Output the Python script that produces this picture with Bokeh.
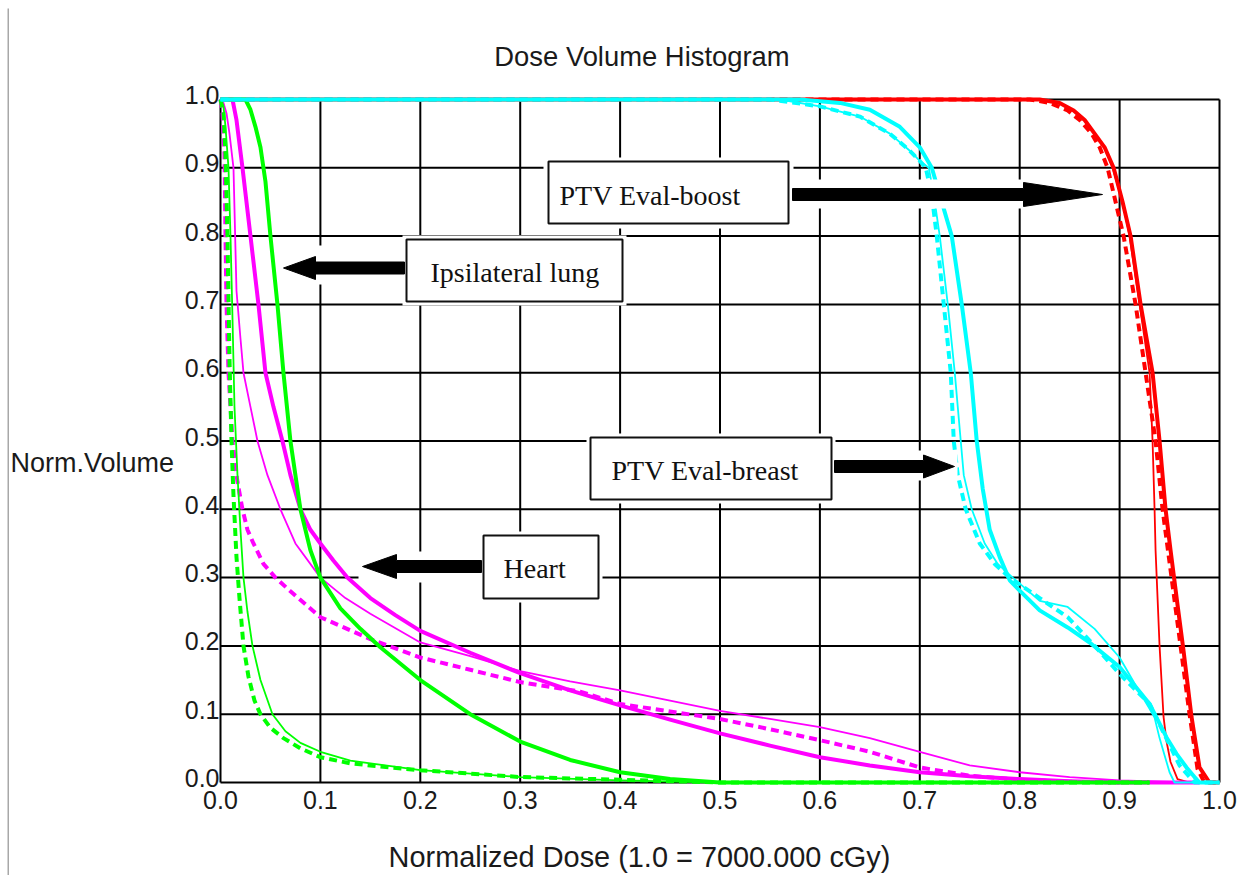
from bokeh.plotting import figure
from bokeh.models import (Range1d, ColumnDataSource, LabelSet,
                          BoxAnnotation, PolyAnnotation)
from bokeh.core.properties import value
from bokeh.embed import file_html
from bokeh.resources import INLINE

# ---------------- data ----------------
tick_values = [0.0, 0.1, 0.2, 0.3, 0.4, 0.5, 0.6, 0.7, 0.8, 0.9, 1.0]
tick_labels = ["0.0", "0.1", "0.2", "0.3", "0.4", "0.5", "0.6", "0.7", "0.8", "0.9", "1.0"]

# Heart (green)
heart1_x = [0, 0.025, 0.03, 0.035, 0.04, 0.045, 0.05, 0.057, 0.063, 0.07, 0.08, 0.09, 0.1, 0.12, 0.14, 0.16, 0.2, 0.25, 0.3, 0.35, 0.4, 0.45, 0.5, 0.93]
heart1_y = [1.0, 1.0, 0.985, 0.96, 0.93, 0.88, 0.8, 0.7, 0.6, 0.5, 0.4, 0.34, 0.3, 0.255, 0.225, 0.198, 0.15, 0.1, 0.06, 0.033, 0.015, 0.005, 0.0, 0.0]
heart2_x = [0, 0.003, 0.005, 0.008, 0.010, 0.012, 0.014, 0.017, 0.020, 0.023, 0.027, 0.032, 0.04, 0.052, 0.065, 0.08, 0.1, 0.13, 0.2, 0.3, 0.4, 0.5, 0.93]
heart2_y = [1.0, 0.99, 0.96, 0.9, 0.8, 0.68, 0.55, 0.45, 0.37, 0.3, 0.25, 0.2, 0.15, 0.1, 0.075, 0.058, 0.045, 0.032, 0.018, 0.008, 0.003, 0.0, 0.0]
heart3_x = [0, 0.003, 0.005, 0.007, 0.009, 0.011, 0.013, 0.016, 0.019, 0.023, 0.028, 0.034, 0.04, 0.05, 0.063, 0.08, 0.1, 0.13, 0.17, 0.2, 0.25, 0.3, 0.35, 0.4, 0.45, 0.5, 0.93]
heart3_y = [1.0, 0.98, 0.92, 0.8, 0.62, 0.5, 0.42, 0.33, 0.27, 0.2, 0.155, 0.12, 0.1, 0.08, 0.065, 0.05, 0.037, 0.028, 0.022, 0.018, 0.013, 0.008, 0.006, 0.004, 0.002, 0.0, 0.0]

# Ipsilateral lung (magenta)
lung1_x = [0, 0.012, 0.016, 0.022, 0.03, 0.038, 0.045, 0.053, 0.062, 0.07, 0.08, 0.09, 0.1, 0.113, 0.127, 0.15, 0.175, 0.2, 0.25, 0.3, 0.35, 0.4, 0.45, 0.5, 0.55, 0.6, 0.65, 0.7, 0.75, 0.8, 0.85, 0.9, 0.98]
lung1_y = [1.0, 1.0, 0.97, 0.9, 0.8, 0.7, 0.6, 0.55, 0.5, 0.45, 0.4, 0.37, 0.35, 0.325, 0.3, 0.27, 0.245, 0.222, 0.19, 0.16, 0.135, 0.113, 0.092, 0.072, 0.054, 0.037, 0.025, 0.015, 0.009, 0.005, 0.002, 0.0, 0.0]
lung2_x = [0, 0.003, 0.006, 0.009, 0.013, 0.016, 0.02, 0.023, 0.03, 0.037, 0.047, 0.06, 0.075, 0.1, 0.125, 0.15, 0.2, 0.25, 0.3, 0.35, 0.4, 0.45, 0.5, 0.55, 0.6, 0.65, 0.7, 0.75, 0.8, 0.85, 0.9, 0.97]
lung2_y = [1.0, 0.995, 0.98, 0.95, 0.9, 0.72, 0.65, 0.6, 0.55, 0.5, 0.45, 0.4, 0.35, 0.3, 0.27, 0.247, 0.205, 0.185, 0.163, 0.148, 0.135, 0.12, 0.105, 0.093, 0.081, 0.065, 0.045, 0.025, 0.015, 0.008, 0.003, 0.0]
lung3_x = [0, 0.002, 0.004, 0.005, 0.006, 0.008, 0.012, 0.017, 0.022, 0.027, 0.033, 0.043, 0.055, 0.07, 0.1, 0.15, 0.2, 0.25, 0.3, 0.36, 0.4, 0.45, 0.5, 0.55, 0.6, 0.65, 0.7, 0.75, 0.8, 0.85, 0.9]
lung3_y = [1.0, 0.98, 0.92, 0.8, 0.7, 0.6, 0.5, 0.44, 0.4, 0.37, 0.35, 0.32, 0.3, 0.28, 0.242, 0.21, 0.183, 0.165, 0.147, 0.133, 0.115, 0.104, 0.093, 0.078, 0.062, 0.045, 0.022, 0.01, 0.004, 0.001, 0.0]

# PTV Eval-breast (cyan)
breast1_x = [0, 0.58, 0.62, 0.65, 0.68, 0.7, 0.712, 0.72, 0.732, 0.742, 0.751, 0.757, 0.763, 0.77, 0.78, 0.79, 0.8, 0.82, 0.848, 0.87, 0.9, 0.93, 0.947, 0.957, 0.967, 0.975, 0.98, 1.0]
breast1_y = [1.0, 1.0, 0.995, 0.985, 0.96, 0.93, 0.9, 0.86, 0.8, 0.7, 0.6, 0.5, 0.43, 0.37, 0.33, 0.296, 0.281, 0.252, 0.227, 0.205, 0.169, 0.115, 0.066, 0.042, 0.022, 0.008, 0.0, 0.0]
breast2_x = [0, 0.56, 0.6, 0.64, 0.67, 0.69, 0.7, 0.709, 0.714, 0.72, 0.728, 0.735, 0.741, 0.744, 0.752, 0.765, 0.778, 0.793, 0.82, 0.848, 0.875, 0.9, 0.915, 0.93, 0.935, 0.94, 0.945, 0.95, 0.955, 1.0]
breast2_y = [1.0, 1.0, 0.99, 0.975, 0.95, 0.925, 0.91, 0.9, 0.86, 0.8, 0.7, 0.6, 0.5, 0.45, 0.4, 0.35, 0.32, 0.3, 0.266, 0.257, 0.225, 0.183, 0.145, 0.108, 0.095, 0.065, 0.04, 0.015, 0.0, 0.0]
breast3_x = [0, 0.55, 0.6, 0.64, 0.67, 0.69, 0.7, 0.706, 0.712, 0.717, 0.724, 0.731, 0.734, 0.738, 0.746, 0.76, 0.775, 0.79, 0.82, 0.848, 0.875, 0.9, 0.93, 0.945, 0.96, 0.975, 1.0]
breast3_y = [1.0, 1.0, 0.99, 0.975, 0.95, 0.925, 0.91, 0.9, 0.86, 0.8, 0.7, 0.6, 0.5, 0.45, 0.4, 0.35, 0.32, 0.3, 0.27, 0.242, 0.2, 0.159, 0.115, 0.07, 0.025, 0.0, 0.0]

# PTV Eval-boost (red)
boost1_x = [0, 0.82, 0.84, 0.854, 0.865, 0.875, 0.885, 0.894, 0.903, 0.911, 0.921, 0.933, 0.94, 0.946, 0.951, 0.958, 0.964, 0.972, 0.98, 0.99, 1.0]
boost1_y = [1.0, 1.0, 0.995, 0.984, 0.97, 0.95, 0.93, 0.9, 0.85, 0.8, 0.7, 0.6, 0.5, 0.4, 0.34, 0.26, 0.193, 0.096, 0.022, 0.0, 0.0]
boost2_x = [0, 0.82, 0.84, 0.854, 0.865, 0.875, 0.885, 0.893, 0.903, 0.91, 0.92, 0.93, 0.933, 0.935, 0.936, 0.94, 0.944, 0.947, 0.951, 0.958, 0.97, 1.0]
boost2_y = [1.0, 1.0, 0.995, 0.984, 0.97, 0.95, 0.93, 0.9, 0.85, 0.8, 0.7, 0.6, 0.5, 0.4, 0.34, 0.2, 0.096, 0.06, 0.03, 0.005, 0.0, 0.0]
boost3_x = [0, 0.81, 0.83, 0.848, 0.86, 0.872, 0.88, 0.888, 0.896, 0.904, 0.916, 0.926, 0.936, 0.943, 0.952, 0.961, 0.97, 0.978, 0.985, 1.0]
boost3_y = [1.0, 1.0, 0.995, 0.984, 0.97, 0.95, 0.93, 0.9, 0.85, 0.8, 0.7, 0.6, 0.5, 0.4, 0.3, 0.2, 0.1, 0.02, 0.0, 0.0]

# ---------------- geometry ----------------
W, H = 1239, 875
X0, X1 = 220, 1219   # page px of dose 0 and 1
Y0, Y1 = 782, 99     # page px of volume 0 and 1


def dx(px):
    return (px - X0) / (X1 - X0)


def dy(py):
    return (Y0 - py) / (Y0 - Y1)


# the frame covers the whole canvas so that nothing is clipped
p = figure(width=W, height=H, output_backend="svg", toolbar_location=None, title=None,
           x_range=Range1d(dx(0), dx(W)), y_range=Range1d(dy(H), dy(0)),
           min_border_left=0, min_border_right=0, min_border_top=0, min_border_bottom=0)
p.xaxis.visible = False
p.yaxis.visible = False
p.xgrid.visible = False
p.ygrid.visible = False
p.outline_line_color = None
p.background_fill_color = "white"
p.border_fill_color = "white"

# thin grey edge at the left of the picture
p.add_layout(BoxAnnotation(left=dx(7), right=dx(8.5), top=dy(8), bottom=dy(H),
                           fill_color="#a8a8a8", fill_alpha=1.0, line_alpha=0.0))

# grid (0.1 steps, including the frame lines at 0 and 1)
n = len(tick_values)
p.segment(x0=tick_values, y0=[tick_values[0]] * n, x1=tick_values, y1=[tick_values[-1]] * n,
          line_color="#000000", line_width=2)
p.segment(x0=[tick_values[0]] * n, y0=tick_values, x1=[tick_values[-1]] * n, y1=tick_values,
          line_color="#000000", line_width=2)

RED, MAG, GRN, CYN = "#ff0000", "#ff00ff", "#00ff00", "#00ffff"
series = [
    (boost3_x, boost3_y, RED, "dash"), (boost2_x, boost2_y, RED, "thin"), (boost1_x, boost1_y, RED, "thick"),
    (lung3_x, lung3_y, MAG, "dash"), (lung2_x, lung2_y, MAG, "thin"), (lung1_x, lung1_y, MAG, "thick"),
    (heart3_x, heart3_y, GRN, "dash"), (heart2_x, heart2_y, GRN, "thin"), (heart1_x, heart1_y, GRN, "thick"),
    (breast3_x, breast3_y, CYN, "dash"), (breast2_x, breast2_y, CYN, "thin"), (breast1_x, breast1_y, CYN, "thick"),
]
for xs, ys, col, sty in series:
    if sty == "thick":
        p.line(xs, ys, line_color=col, line_width=4, line_join="round")
    elif sty == "thin":
        p.line(xs, ys, line_color=col, line_width=1.8, line_join="round")
    else:
        p.line(xs, ys, line_color=col, line_width=4, line_dash="8 5", line_join="round")

SANS = value("Liberation Sans")
SERIF = value("Liberation Serif")

# ---------------- tick labels ----------------
ylab_src = ColumnDataSource(dict(x=[dx(X0 - 1)] * n,
                                 y=[v - 4.5 / (Y0 - Y1) for v in tick_values],
                                 text=tick_labels))
xlab_src = ColumnDataSource(dict(x=tick_values, y=[dy(808)] * n, text=tick_labels))
p.add_layout(LabelSet(x="x", y="y", text="text", source=ylab_src, text_align="right",
                      text_baseline="alphabetic", text_font=SANS, text_font_size="25px",
                      text_color="#1a1a1a"))
p.add_layout(LabelSet(x="x", y="y", text="text", source=xlab_src, text_align="center",
                      text_baseline="alphabetic", text_font=SANS, text_font_size="25px",
                      text_color="#1a1a1a"))


def txt(x, y, s, font, size, align="left", color="#1a1a1a"):
    src = ColumnDataSource(dict(x=[dx(x)], y=[dy(y)], text=[s]))
    p.add_layout(LabelSet(x="x", y="y", text="text", source=src, text_align=align,
                          text_baseline="alphabetic", text_font=font, text_font_size=size,
                          text_color=color))


# ---------------- titles ----------------
txt(641.5, 65, "Dose Volume Histogram", SANS, "27.4px", "center")
txt(10, 471, "Norm.Volume", SANS, "27px", "left")
txt(639, 866, "Normalized Dose (1.0 = 7000.000 cGy)", SANS, "28.9px", "center")


# ---------------- annotation boxes & arrows ----------------
def white(l, r, t, b):
    p.add_layout(BoxAnnotation(left=dx(l), right=dx(r), top=dy(t), bottom=dy(b),
                               fill_color="white", fill_alpha=1.0, line_alpha=0.0))


def box(l, r, t, b):
    p.add_layout(BoxAnnotation(left=dx(l), right=dx(r), top=dy(t), bottom=dy(b),
                               fill_color="white", fill_alpha=1.0, line_color="#111111",
                               line_width=2, line_alpha=1.0))


def arrow(tail, tip, yc, head_len, bar_half, head_half):
    d = 1 if tip > tail else -1
    hb = tip - d * head_len
    pxs = [tail, hb, hb, tip, hb, hb, tail]
    pys = [yc - bar_half, yc - bar_half, yc - head_half, yc, yc + head_half, yc + bar_half, yc + bar_half]
    p.add_layout(PolyAnnotation(xs=[dx(v) for v in pxs], ys=[dy(v) for v in pys],
                                fill_color="black", fill_alpha=1.0, line_color="black",
                                line_width=1, line_alpha=1.0))


# white padding (image cut-outs)
white(543, 793, 157, 228)      # boost box
white(790, 1106, 179, 208)     # boost arrow
white(402, 626, 235, 305)      # lung box
white(279, 406, 245, 284)      # lung arrow
white(586, 835, 433, 503)      # breast box
white(831, 957, 450, 480)      # breast arrow
white(479, 602, 531, 602)      # heart box
white(358, 483, 551, 582)      # heart arrow

box(548, 788, 161, 223)
arrow(792, 1102, 194, 79, 6, 12)
txt(559, 204, "PTV Eval-boost", SERIF, "28px", color="#111111")

box(406, 622, 239, 301)
arrow(404, 283, 267.5, 32, 6, 11.5)
txt(430, 281, "Ipsilateral lung", SERIF, "28px", color="#111111")

box(590, 831, 437, 499)
arrow(834, 954, 466, 31, 6, 11.5)
txt(611, 479, "PTV Eval-breast", SERIF, "28px", color="#111111")

box(483, 598, 535, 598)
arrow(481, 362, 566, 34, 6, 12)
txt(503, 577, "Heart", SERIF, "28px", color="#111111")

open("out.html", "w").write(file_html(p, INLINE))
